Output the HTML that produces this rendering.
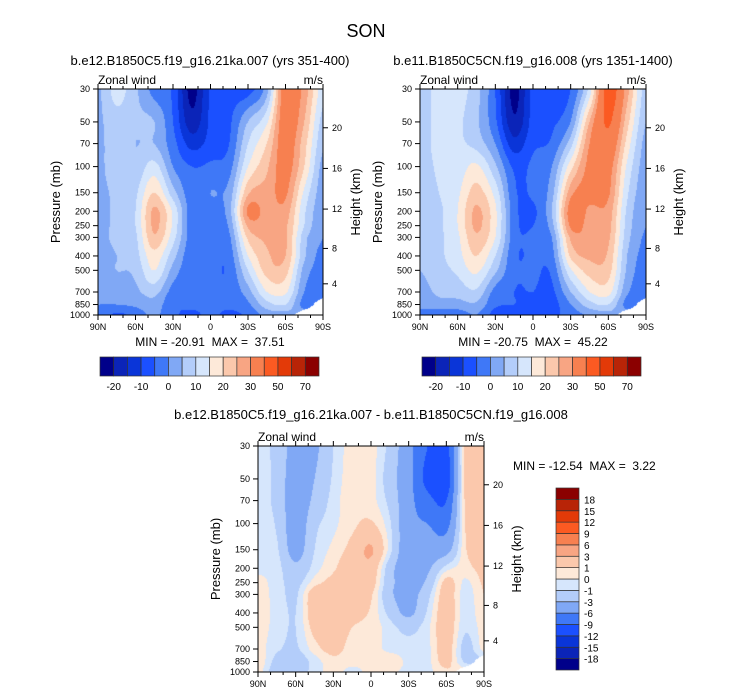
<!DOCTYPE html>
<html><head><meta charset="utf-8">
<style>
html,body{margin:0;padding:0;background:#fff;}
#root{position:relative;width:733px;height:696px;overflow:hidden;font-family:"Liberation Sans",Arial,sans-serif;}
canvas{position:absolute;}
svg{position:absolute;left:0;top:0;}
text{font-family:"Liberation Sans",Arial,sans-serif;fill:#000;white-space:pre;}
</style></head>
<body>
<div id="root">
<canvas id="c1" width="225" height="226" style="left:98px;top:89px"></canvas>
<canvas id="c2" width="226" height="226" style="left:420px;top:89px"></canvas>
<canvas id="c3" width="226" height="226" style="left:258px;top:446px"></canvas>
<svg id="ov" width="733" height="696" xml:space="preserve">
<text x="366" y="37" font-size="18" text-anchor="middle">SON</text>
<text x="210" y="65" font-size="13" text-anchor="middle">b.e12.B1850C5.f19_g16.21ka.007 (yrs 351-400)</text>
<text x="533" y="65" font-size="13" text-anchor="middle">b.e11.B1850C5CN.f19_g16.008 (yrs 1351-1400)</text>
<text x="371" y="419" font-size="13" text-anchor="middle">b.e12.B1850C5.f19_g16.21ka.007 - b.e11.B1850C5CN.f19_g16.008</text>
<text x="210" y="346" font-size="12" text-anchor="middle">MIN = -20.91  MAX =  37.51</text>
<text x="533" y="346" font-size="12" text-anchor="middle">MIN = -20.75  MAX =  45.22</text>
<text x="513" y="470" font-size="12">MIN = -12.54  MAX =  3.22</text>
</svg>
</div>
<script>
const lats=[90,75,60,45,30,15,0,-15,-30,-45,-60,-75,-90];
const plevs=[30,50,70,100,150,200,250,300,400,500,700,850,1000];
const N=null;
// rows = pressure levels, columns = latitudes (90N..90S)
const p1Values=[
[4,12,6,-2,-6,-22,-9,-7,-7,3,35,28,12],
[4,8,6,5,-5,-18,-9,-6,5,14,35,25,8],
[4,7,5,5,-3,-12,-8,-5,10,20,34,22,6],
[4,7,6,12,0,-5,-4,-2,15,24,33,20,3],
[4,6,9,20,7,-3,0,2,24,27,31,14,2],
[4,6,10,26,14,-3,-3,3,31,28,28,11,1],
[4,6,10,26,14,-3,-4,1,26,27,26,10,0],
[4,6,9,24,12,-3,-4,-1,21,26,26,7,0],
[4,5,8,18,7,-4,-4,-3,15,24,25,6,-2],
[4,5,6,15,3,-4,-4,-4,10,22,22,3,-2],
[2,3,4,7,-2,-4,-4,-4,3,15,16,0,-3],
[0,0,1,3,-4,-4,-4,-4,-1,8,10,-2,N],
[-1,-6,-3,1,-4,-6,-4,-6,-4,2,3,N,N]];
const p2Values=[
[7,12,12,7,-5,-22,-8,-7,-5,12,44,27,7],
[7,12,11,6,-4,-19,-8,-6,0,25,41,22,5],
[7,12,11,8,0,-13,-6,-4,8,30,37,18,3],
[7,11,12,16,6,-6,-4,0,18,32,33,14,2],
[7,10,14,22,13,-4,-4,3,28,32,31,11,1],
[7,9,15,26,16,-3,-6,5,33,29,28,9,0],
[7,9,15,26,16,-3,-5,3,31,28,27,8,0],
[7,9,14,24,15,-3,-4,0,26,28,26,7,-1],
[7,9,13,20,10,-4,-4,-2,21,26,24,5,-2],
[5,8,11,16,6,-4,-4,-4,14,22,22,4,-3],
[3,6,7,9,-2,-5,-5,-6,5,15,17,1,-3],
[1,3,3,4,-4,-5,-6,-7,0,8,10,-2,N],
[-1,-3,-3,0,-7,-7,-5,-6,-3,1,3,N,N]];
const diffValues=[
[-0.5,-1.5,-4,-3.5,-1,0.5,0.4,-1.5,-5,-9,-10,1.5,2],
[-0.5,-1.5,-4.5,-3,-0.8,0.6,0.5,-2,-5,-10,-11,1.5,2],
[-0.5,-1.5,-4.5,-2.5,-0.5,0.6,0.4,-1.5,-5,-8,-9,1.2,2],
[-0.5,-1.2,-4.5,-1.5,-0.3,0.7,1.2,-0.8,-5,-6,-7,1,2],
[-0.5,-0.8,-4,-1,0.3,1.5,3.2,-0.5,-5,-4.5,-4,0.8,2],
[-0.3,-0.5,-2.5,-0.5,0.8,2,2.2,-2,-5,-3.5,-0.5,0.5,1.5],
[0.4,-0.5,-1.5,0.5,1.5,2,1.8,-2.2,-4.5,-2.5,1.5,-0.2,1.2],
[0.5,-0.4,-1.2,2,2,2,1.2,-2.5,-4,-1.5,1.8,-0.5,1],
[0.5,-0.3,-1,2,2,1.5,0.8,-1.5,-3.5,-0.8,2,-0.6,0.8],
[0.5,-0.4,-1,1.5,2,1,0.6,-0.5,-1.5,-0.3,2,-0.8,0.5],
[0.5,-0.8,-1.2,0.5,1.5,0.5,0.5,-0.3,-0.5,-0.3,1.8,-1.5,0.3],
[0.8,-1.5,-2,-0.5,0.6,0.3,0.4,0.8,-0.3,-0.3,1.5,-1.2,N],
[0.5,-2,-2,-0.5,0.3,-0.3,0.3,0.2,-0.3,-0.3,0.8,N,N]];
const levelsAbs=[-20,-15,-10,-5,0,5,10,15,20,25,30,40,50,60,70];
const levelsDiff=[-18,-15,-12,-9,-6,-3,-1,0,1,3,6,9,12,15,18];
const cbLabelsAbs=["-20","-10","0","10","20","30","50","70"];
const pTickLabels=[30,50,70,100,150,200,250,300,400,500,700,850,1000];
const latTickLabels=["90N","60N","30N","0","30S","60S","90S"];
const latTickValues=[90,60,30,0,-30,-60,-90];
const heightTicks=[4,8,12,16,20];
const cmap=['#00008a','#0b24b8','#0a35d8','#1b50ff','#3f78f7','#80a8f5','#b3cdfa','#d6e6fc','#fde9d9','#fbc8ac','#f8a583','#f78050','#fb5a22','#e33a08','#b82407','#8b0000'];

const LOGR=Math.log(1000/30);
function yScale(p,top,h){return top+h*Math.log(p/30)/LOGR;}
function xScale(lat,left,w){return left+w*(90-lat)/180;}
function hex(c){return [parseInt(c.substr(1,2),16),parseInt(c.substr(3,2),16),parseInt(c.substr(5,2),16)];}
const rgb=cmap.map(hex);
function levelIndex(v,levels){let k=0;while(k<levels.length&&v>=levels[k])k++;return k;}
function filled(grid){
  // fill missing with nearest non-missing in same row for smooth interpolation
  return grid.map(row=>{const r=row.slice();for(let i=0;i<r.length;i++){if(r[i]===null){let k=i;while(k>0&&r[k]===null)k--;r[i]=r[k];}}return r;});
}
function cr(p0,p1,p2,p3,t){return 0.5*((2*p1)+(-p0+p2)*t+(2*p0-5*p1+4*p2-p3)*t*t+(-p0+3*p1-3*p2+p3)*t*t*t);}
function bicubic(g,fi,fj){
  const ni=g[0].length,nj=g.length;
  const i1=Math.min(Math.floor(fi),ni-2),j1=Math.min(Math.floor(fj),nj-2);
  const ti=fi-i1,tj=fj-j1;
  const gi=i=>Math.max(0,Math.min(ni-1,i)),gj=j=>Math.max(0,Math.min(nj-1,j));
  const rows=[];
  for(let d=-1;d<=2;d++){const r=g[gj(j1+d)];rows.push(cr(r[gi(i1-1)],r[gi(i1)],r[gi(i1+1)],r[gi(i1+2)],ti));}
  return cr(rows[0],rows[1],rows[2],rows[3],tj);
}
function maskVal(grid,fi,fj){
  const i0=Math.min(Math.floor(fi),lats.length-2),j0=Math.min(Math.floor(fj),plevs.length-2);
  const ti=fi-i0,tj=fj-j0;
  const m=(j,i)=>grid[j][i]===null?1:0;
  return m(j0,i0)*(1-ti)*(1-tj)+m(j0,i0+1)*ti*(1-tj)+m(j0+1,i0)*(1-ti)*tj+m(j0+1,i0+1)*ti*tj;
}
function drawField(id,grid,levels){
  const cv=document.getElementById(id),ctx=cv.getContext('2d');
  const W=cv.width,H=cv.height,img=ctx.createImageData(W,H);
  const g=filled(grid);
  for(let y=0;y<H;y++){
    const p=30*Math.exp((y+0.5)/H*LOGR);
    let j=0;while(j<plevs.length-2&&p>plevs[j+1])j++;
    let fj=j+Math.log(p/plevs[j])/Math.log(plevs[j+1]/plevs[j]);
    fj=Math.max(0,Math.min(12,fj));
    for(let x=0;x<W;x++){
      const fi=(x+0.5)/W*12;
      const o=(y*W+x)*4;
      img.data[o+3]=255;
      if(maskVal(grid,fi,fj)>0.5){img.data[o]=255;img.data[o+1]=255;img.data[o+2]=255;continue;}
      const v=bicubic(g,fi,fj);
      const c=rgb[levelIndex(v,levels)];
      img.data[o]=c[0];img.data[o+1]=c[1];img.data[o+2]=c[2];
    }
  }
  ctx.putImageData(img,0,0);
}
drawField('c1',p1Values,levelsAbs);
drawField('c2',p2Values,levelsAbs);
drawField('c3',diffValues,levelsDiff);

const NS='http://www.w3.org/2000/svg';
const ov=document.getElementById('ov');
function mk(tag,attrs,parent){const e=document.createElementNS(NS,tag);for(const k in attrs)e.setAttribute(k,attrs[k]);(parent||ov).appendChild(e);return e;}
function heightToP(z){const m=z*1000;return m<=11000?1013.25*Math.pow(1-2.25577e-5*m,5.25588):226.32*Math.exp(-(m-11000)/6341.6);}

function drawAxes(left,top,w,h,prefix){
  const g=mk('g',{});
  
  
  const fr=mk('rect',{x:left,y:top,width:w,height:h,fill:'none',stroke:'#000','stroke-width':1},g);
  
  
  for(const p of pTickLabels){
    const y=yScale(p,top,h);
    const t=mk('line',{x1:left-5,x2:left,y1:y,y2:y,stroke:'#000'},g);
    
    
    const tx=mk('text',{x:left-8,y:y+3,'font-size':9,'text-anchor':'end'},g);
    
    
    tx.textContent=p;
  }
  for(let lat=90;lat>=-90;lat-=10){
    const x=xScale(lat,left,w);const major=lat%30===0;const L=major?5:3;
    const tb=mk('line',{x1:x,x2:x,y1:top+h,y2:top+h+L,stroke:'#000'},g);
    
    
    const tt=mk('line',{x1:x,x2:x,y1:top-L,y2:top,stroke:'#000'},g);
    
    
  }
  latTickValues.forEach((lat,k)=>{
    const tx=mk('text',{x:xScale(lat,left,w),y:top+h+15,'font-size':9,'text-anchor':'middle'},g);
    
    
    tx.textContent=latTickLabels[k];
  });
  for(const z of heightTicks){
    const y=yScale(heightToP(z),top,h);
    const t=mk('line',{x1:left+w,x2:left+w+5,y1:y,y2:y,stroke:'#000'},g);
    
    
    const tx=mk('text',{x:left+w+9,y:y+3,'font-size':9},g);
    
    
    tx.textContent=z;
  }
  const pl=mk('text',{x:0,y:0,'font-size':13,'text-anchor':'middle',transform:`translate(${left-38},${top+h/2}) rotate(-90)`},g);
  
  
  pl.textContent='Pressure (mb)';
  const hl=mk('text',{x:0,y:0,'font-size':13,'text-anchor':'middle',transform:`translate(${left+w+37},${top+h/2}) rotate(-90)`},g);
  
  
  hl.textContent='Height (km)';
  const zl=mk('text',{x:left,y:top-5,'font-size':12},g);
  
  
  zl.textContent='Zonal wind';
  const ul=mk('text',{x:left+w,y:top-5,'font-size':12,'text-anchor':'end'},g);
  
  
  ul.textContent='m/s';
}
drawAxes(98,89,225,226,'panel1');
drawAxes(420,89,226,226,'panel2');
drawAxes(258,446,226,226,'diff');

function hColorbar(x0,x1,y0,y1,name){
  const g=mk('g',{});
  
  
  const bw=(x1-x0)/cmap.length;
  cmap.forEach((c,k)=>{
    const r=mk('rect',{x:x0+k*bw,y:y0,width:bw,height:y1-y0,fill:c,stroke:'#333','stroke-width':0.7},g);
    
    
  });
  cbLabelsAbs.forEach((lab,k)=>{
    const t=mk('text',{x:x0+(2*k+1)*bw,y:y1+14,'font-size':10,'text-anchor':'middle'},g);
    
    
    t.textContent=lab;
  });
}
hColorbar(100,319,357,376,'panel1-colorbar');
hColorbar(422,641,357,376,'panel2-colorbar');

(function(){
  const x0=556,x1=579,y0=488,y1=670;
  const g=mk('g',{});
  
  
  const bh=(y1-y0)/cmap.length;
  cmap.forEach((c,k)=>{
    const r=mk('rect',{x:x0,y:y1-(k+1)*bh,width:x1-x0,height:bh,fill:c,stroke:'#333','stroke-width':0.7},g);
    
    
  });
  levelsDiff.forEach((lv,k)=>{
    const t=mk('text',{x:x1+5,y:y1-(k+1)*bh+4,'font-size':10},g);
    
    
    t.textContent=lv;
  });
})();
</script>
</body></html>
